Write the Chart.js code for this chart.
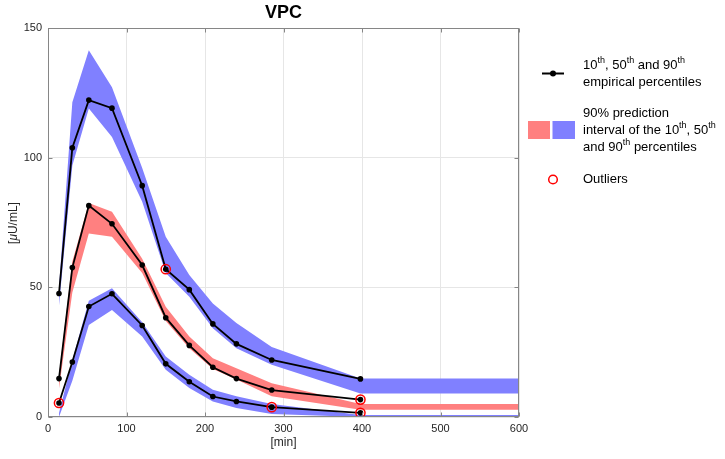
<!DOCTYPE html>
<html>
<head>
<meta charset="utf-8">
<title>VPC</title>
<script src="https://cdn.jsdelivr.net/npm/chart.js@4.4.0/dist/chart.umd.min.js"></script>
<style>
  html, body { margin:0; padding:0; background:#fff; }
  #wrap { width:725px; height:459px; }
</style>
</head>
<body>
<div id="wrap"><canvas id="vpc" width="725" height="459"></canvas></div>
<script>
// empirical percentiles (time bins in min)
const TIMES = [14, 31, 52, 81.5, 120, 150, 180, 210, 240, 285, 398];
const P90 = [47.6, 103.8, 122.2, 119.1, 89.2, 57.0, 49.1, 35.9, 28.2, 22.0, 14.7];
const P50 = [14.8, 57.6, 81.5, 74.5, 58.6, 38.3, 27.6, 19.2, 14.8, 10.4, 6.7];
const P10 = [5.4, 21.2, 42.6, 47.5, 35.3, 20.5, 13.6, 7.9, 6.0, 3.8, 1.6];

// 90% prediction intervals (last bin carried to 600)
const BAND_TIMES = [14, 31, 52, 81.5, 120, 150, 180, 210, 240, 285, 398, 600];
const P90_LO = [43, 97, 119, 108, 83, 55.5, 46.4, 34.2, 26.5, 20.1, 9.1, 9.1];
const P90_HI = [50, 121.4, 141.4, 127.2, 96, 69.5, 54.8, 43.8, 36.2, 27.0, 14.8, 14.8];
const P50_LO = [11, 48, 70.8, 69.5, 55.5, 37, 26.5, 18.5, 14.5, 8.0, 2.8, 2.8];
const P50_HI = [16, 60, 82.5, 79.1, 61, 42.5, 31, 22.7, 18.8, 13.0, 5.0, 5.0];
const P10_LO = [0, 14, 35.5, 41.3, 31, 18.2, 11.2, 6, 3.5, 1.2, 0, 0];
const P10_HI = [1.5, 22, 44.8, 49.6, 36.5, 23.3, 16.3, 10.5, 8.0, 5.0, 0.8, 0.8];

// outliers
const OUT_X = [14, 150, 285, 398, 398];
const OUT_Y = [5.4, 57.0, 3.8, 6.7, 1.6];

const X_TICKS = [0, 100, 200, 300, 400, 500, 600];
const Y_TICKS = [0, 50, 100, 150];

const BLUE = "#8080ff", RED = "#ff8080";
const FONT = "'Liberation Sans', Arial, Helvetica, sans-serif";
const FRAME = "#868686";

function pts(xs, ys){ return xs.map((x,i)=>({x:x, y:ys[i]})); }

function band(lo, hi, color){
  return [
    { data: pts(BAND_TIMES, lo), borderWidth:0, pointRadius:0, fill:false, order:5, backgroundColor:color },
    { data: pts(BAND_TIMES, hi), borderWidth:0, pointRadius:0, fill:"-1", order:5, backgroundColor:color }
  ];
}

function perc(ys){
  return { data: pts(TIMES, ys), borderColor:"#000", borderWidth:1.8, pointRadius:2.8,
           pointBackgroundColor:"#000", pointBorderWidth:0, fill:false, order:1 };
}

// text with superscripts, parts = [[str, isSup], ...]
function supText(ctx, parts, x, y, size){
  let cx = x;
  parts.forEach(([s, sup])=>{
    ctx.font = (sup ? Math.round(size*0.68) : size) + "px " + FONT;
    ctx.fillText(s, cx, sup ? y - size*0.38 : y);
    cx += ctx.measureText(s).width;
  });
}

const decor = {
  id: "decor",
  afterDraw(chart){
    const ctx = chart.ctx, a = chart.chartArea;
    const xs = chart.scales.x, ys = chart.scales.y;
    ctx.save();
    // frame + inward ticks
    ctx.strokeStyle = FRAME; ctx.lineWidth = 1;
    const L = Math.round(a.left)+0.5, R = Math.round(a.right)-0.5, T = Math.round(a.top)+0.5, B = Math.round(a.bottom)-0.5;
    ctx.strokeRect(L, T, R-L, B-T);
    ctx.beginPath();
    X_TICKS.forEach(v=>{ const p = Math.round(xs.getPixelForValue(v))+0.5;
      ctx.moveTo(p, B); ctx.lineTo(p, B-4); ctx.moveTo(p, T); ctx.lineTo(p, T+4); });
    Y_TICKS.forEach(v=>{ const p = Math.round(ys.getPixelForValue(v))+0.5;
      ctx.moveTo(L, p); ctx.lineTo(L+4, p); ctx.moveTo(R, p); ctx.lineTo(R-4, p); });
    ctx.stroke();

    // title
    ctx.fillStyle = "#000"; ctx.textAlign = "center"; ctx.textBaseline = "middle";
    ctx.font = "bold 18px " + FONT;
    ctx.fillText("VPC", (a.left+a.right)/2, 13);

    // x title
    ctx.fillStyle = "#262626";
    ctx.font = "12px " + FONT;
    ctx.fillText("[min]", (a.left+a.right)/2, 443);

    // y title with italic mu
    ctx.save();
    ctx.translate(14, 223); ctx.rotate(-Math.PI/2);
    ctx.textAlign = "left";
    const segs = [["[", ""], ["\u03bc", "italic "], ["U/mL]", ""]];
    let w = 0;
    segs.forEach(([s, st])=>{ ctx.font = st + "12px " + FONT; w += ctx.measureText(s).width; });
    let cx = -w/2;
    segs.forEach(([s, st])=>{ ctx.font = st + "12px " + FONT; ctx.fillText(s, cx, 0); cx += ctx.measureText(s).width; });
    ctx.restore();

    // legend
    const tx = 583;
    ctx.fillStyle = "#000"; ctx.textAlign = "left"; ctx.textBaseline = "middle";
    ctx.strokeStyle = "#000"; ctx.lineWidth = 2;
    ctx.beginPath(); ctx.moveTo(542, 73.5); ctx.lineTo(564, 73.5); ctx.stroke();
    ctx.beginPath(); ctx.arc(553, 73.5, 3, 0, Math.PI*2); ctx.fill();
    supText(ctx, [["10"],["th",1],[", 50"],["th",1],[" and 90"],["th",1]], tx, 65.5, 13);
    supText(ctx, [["empirical percentiles"]], tx, 82, 13);

    ctx.fillStyle = RED; ctx.fillRect(528, 121, 22, 18);
    ctx.fillStyle = BLUE; ctx.fillRect(552.5, 121, 22.5, 18);
    ctx.fillStyle = "#000";
    supText(ctx, [["90% prediction"]], tx, 113.5, 13);
    supText(ctx, [["interval of the 10"],["th",1],[", 50"],["th",1]], tx, 130.5, 13);
    supText(ctx, [["and 90"],["th",1],[" percentiles"]], tx, 147, 13);

    ctx.strokeStyle = "#ff0000"; ctx.lineWidth = 1.5;
    ctx.beginPath(); ctx.arc(553, 179.5, 4.3, 0, Math.PI*2); ctx.stroke();
    supText(ctx, [["Outliers"]], tx, 179, 13);
    ctx.restore();
  }
};

const datasets = [
  ...band(P90_LO, P90_HI, BLUE),
  ...band(P50_LO, P50_HI, RED),
  ...band(P10_LO, P10_HI, BLUE),
  perc(P90), perc(P50), perc(P10),
  { data: pts(OUT_X, OUT_Y), showLine:false, pointRadius:4.6, pointBorderColor:"#ff0000",
    pointBackgroundColor:"rgba(0,0,0,0)", pointBorderWidth:1.5, order:0 }
];

new Chart(document.getElementById("vpc"), {
  type: "line",
  data: { datasets },
  options: {
    responsive:false, animation:false, devicePixelRatio:1,
    layout: { padding: { left:0, right:206, top:28, bottom:0 } },
    plugins: { legend:{display:false}, tooltip:{enabled:false}, title:{display:false} },
    elements: { line:{ tension:0 } },
    scales: {
      x: {
        type:"linear", min:0, max:600,
        afterBuildTicks: s => { s.ticks = X_TICKS.map(v=>({value:v})); },
        afterFit: s => { s.height = 42; },
        grid: { color:"#e6e6e6", drawTicks:false },
        border: { display:false },
        ticks: { padding:5, color:"#262626", font:{ family:FONT, size:11 } }
      },
      y: {
        type:"linear", min:0, max:150,
        afterBuildTicks: s => { s.ticks = Y_TICKS.map(v=>({value:v})); },
        afterFit: s => { s.width = 48; },
        grid: { color:"#e6e6e6", drawTicks:false },
        border: { display:false },
        ticks: { padding:6, color:"#262626", font:{ family:FONT, size:11 } }
      }
    }
  },
  plugins: [decor]
});
</script>
</body>
</html>
